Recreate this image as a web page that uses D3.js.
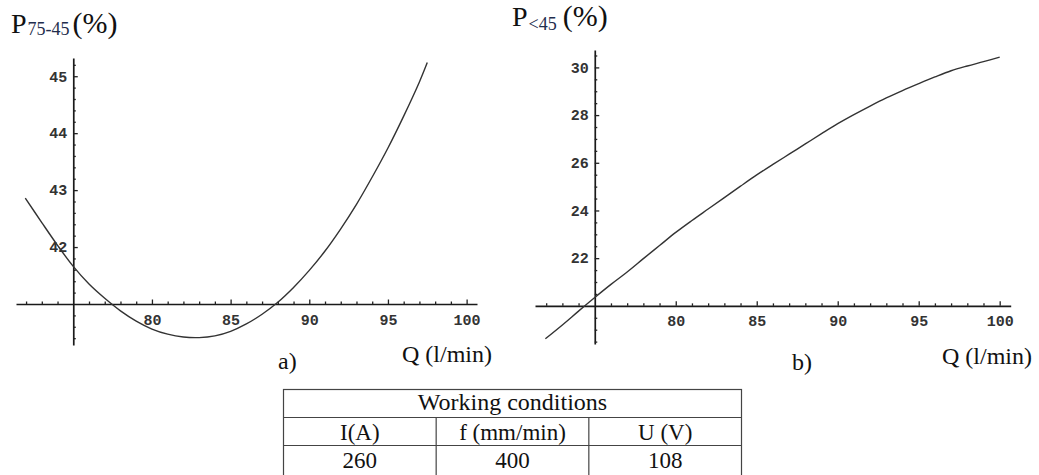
<!DOCTYPE html>
<html><head><meta charset="utf-8">
<script src="https://cdn.jsdelivr.net/npm/d3@7"></script>
<style>
html,body{margin:0;padding:0;background:#fff;}
svg{display:block;}
.tick text{font-family:"Liberation Mono","DejaVu Sans Mono",monospace;font-weight:bold;font-size:15px;fill:#333;}
.serif{font-family:"Liberation Serif","Times New Roman",serif;fill:#111;}
</style></head><body>
<svg id="chart" width="1039" height="475"></svg>
<script>
// ---- data ----
const qA = [71.95,73,74,75,76,77,78,79,80,81,82,83,84,85,86,87,88,89,90,91,92,93,94,95,96,97,97.5];
const pA = [42.86,42.43,42.03,41.66,41.35,41.10,40.88,40.70,40.56,40.47,40.42,40.41,40.44,40.52,40.65,40.82,41.03,41.29,41.59,41.93,42.32,42.75,43.23,43.74,44.30,44.90,45.24];
const qB = [71.95,73,74,75,76,77,78,79,80,81,82,83,84,85,86,87,88,89,90,91,92,93,94,95,96,97,98,99,100];
const pB = [18.62,19.20,19.78,20.35,20.90,21.42,21.98,22.53,23.08,23.58,24.06,24.54,25.02,25.49,25.93,26.36,26.79,27.22,27.64,28.02,28.38,28.72,29.03,29.32,29.60,29.86,30.06,30.24,30.43];
const xMajorTicks = [80,85,90,95,100];
const yMajorTicksA = [42,43,44,45];
const yMajorTicksB = [22,24,26,28,30];
const tableTitle = "Working conditions";
const tableHeaders = ["I(A)","f (mm/min)","U (V)"];
const tableValues = ["260","400","108"];

const svg = d3.select("#chart");

function panel(cfg){
  const g = svg.append("g");
  const x = d3.scaleLinear().domain(cfg.xd).range(cfg.xr);
  const y = d3.scaleLinear().domain(cfg.yd).range(cfg.yr);
  const xMinor = d3.range(72,101).filter(v => v % 5 !== 0);
  const yMinor = d3.range(cfg.yd[0], cfg.yd[1], cfg.yMinorStep)
      .map(v => Math.round(v / cfg.yMinorStep) * cfg.yMinorStep)
      .filter(v => v > cfg.yd[0] && v < cfg.yd[1] && cfg.yMajor.indexOf(+v.toFixed(3)) < 0 && Math.abs(v - cfg.oy) > 1e-6);

  // x axis
  const gx = g.append("g").attr("transform", `translate(0,${y(cfg.oy)})`);
  gx.append("g").call(d3.axisBottom(x).tickValues(xMinor).tickSize(-2.5).tickSizeOuter(0).tickFormat(""));
  gx.append("g").call(d3.axisBottom(x).tickValues(xMajorTicks).tickSize(-4.5).tickSizeOuter(0).tickPadding(cfg.xPad).tickFormat(d3.format("d")))
    .select(".domain").remove();
  // y axis
  const gy = g.append("g").attr("transform", `translate(${x(cfg.ox)},0)`);
  gy.append("g").call(d3.axisLeft(y).tickValues(yMinor).tickSize(-2.5).tickSizeOuter(0).tickFormat(""));
  gy.append("g").call(d3.axisLeft(y).tickValues(cfg.yMajor).tickSize(-4.5).tickSizeOuter(0).tickPadding(6).tickFormat(d3.format("d")))
    .select(".domain").remove();
  g.selectAll(".domain").attr("stroke","#1a1a1a").attr("stroke-width",1.7);
  g.selectAll(".tick line").attr("stroke","#222").attr("stroke-width",1.3);

  // curve
  const line = d3.line().x((d,i)=>x(cfg.q[i])).y((d,i)=>y(cfg.p[i])).curve(d3.curveCatmullRom);
  g.append("path").datum(cfg.p).attr("d", line).attr("fill","none").attr("stroke","#333").attr("stroke-width",1.4);

  // titles
  const t = g.append("text").attr("class","serif").attr("x",cfg.tx).attr("y",cfg.ty);
  t.append("tspan").attr("font-size",28).text("P");
  t.append("tspan").attr("font-size",18).attr("dx",1).attr("dy",cfg.subDy).attr("fill","#1f2d4d").text(cfg.sub);
  t.append("tspan").attr("font-size",30).attr("dx",cfg.unitDx).attr("dy",-cfg.subDy).text("(%)");
  g.append("text").attr("class","serif").attr("font-size",24).attr("x",cfg.qx).attr("y",cfg.qy).text("Q (l/min)");
  g.append("text").attr("class","serif").attr("font-size",24).attr("x",cfg.lx).attr("y",cfg.ly).text(cfg.letter);
}

panel({xd:[71.36,100.66], xr:[16,477], yd:[40.28,45.32], yr:[345,58], ox:75, oy:41,
  yMajor:yMajorTicksA, yMinorStep:0.2, q:qA, p:pA, xPad:10.5,
  tx:11, ty:33, sub:"75-45", subDy:2, unitDx:3, qx:402, qy:362, lx:278, ly:369, letter:"a)"});
panel({xd:[71.31,100.68], xr:[535,1010.7], yd:[18.4,30.73], yr:[344,50], ox:75, oy:20,
  yMajor:yMajorTicksB, yMinorStep:0.5, q:qB, p:pB, xPad:10,
  tx:512, ty:26, sub:"<45", subDy:3.5, unitDx:6, qx:942, qy:364, lx:792, ly:370, letter:"b)"});

// ---- table ----
const tb = svg.append("g");
const colX = d3.scaleBand().domain(tableHeaders).range([283.5,741.5]);
const rowY = [389.5, 417.5, 445.5, 476];
tb.append("rect").attr("x",283.5).attr("y",rowY[0]).attr("width",458).attr("height",rowY[3]-rowY[0])
  .attr("fill","none").attr("stroke","#444").attr("stroke-width",1.2);
tb.selectAll("line.h").data([rowY[1],rowY[2]]).join("line")
  .attr("x1",283.5).attr("x2",741.5).attr("y1",d=>d).attr("y2",d=>d).attr("stroke","#444").attr("stroke-width",1.2);
tb.selectAll("line.v").data(tableHeaders.slice(1)).join("line")
  .attr("x1",d=>colX(d)).attr("x2",d=>colX(d)).attr("y1",rowY[1]).attr("y2",rowY[3]).attr("stroke","#444").attr("stroke-width",1.2);
tb.append("text").attr("class","serif").attr("font-size",24).attr("text-anchor","middle")
  .attr("x",512.5).attr("y",409.5).text(tableTitle);
tb.selectAll("text.hd").data(tableHeaders).join("text").attr("class","serif").attr("font-size",23).attr("text-anchor","middle")
  .attr("x",d=>colX(d)+colX.bandwidth()/2).attr("y",440).text(d=>d);
tb.selectAll("text.vl").data(tableValues).join("text").attr("class","serif").attr("font-size",23).attr("text-anchor","middle")
  .attr("x",(d,i)=>colX(tableHeaders[i])+colX.bandwidth()/2).attr("y",467.5).text(d=>d);
</script>
</body></html>
